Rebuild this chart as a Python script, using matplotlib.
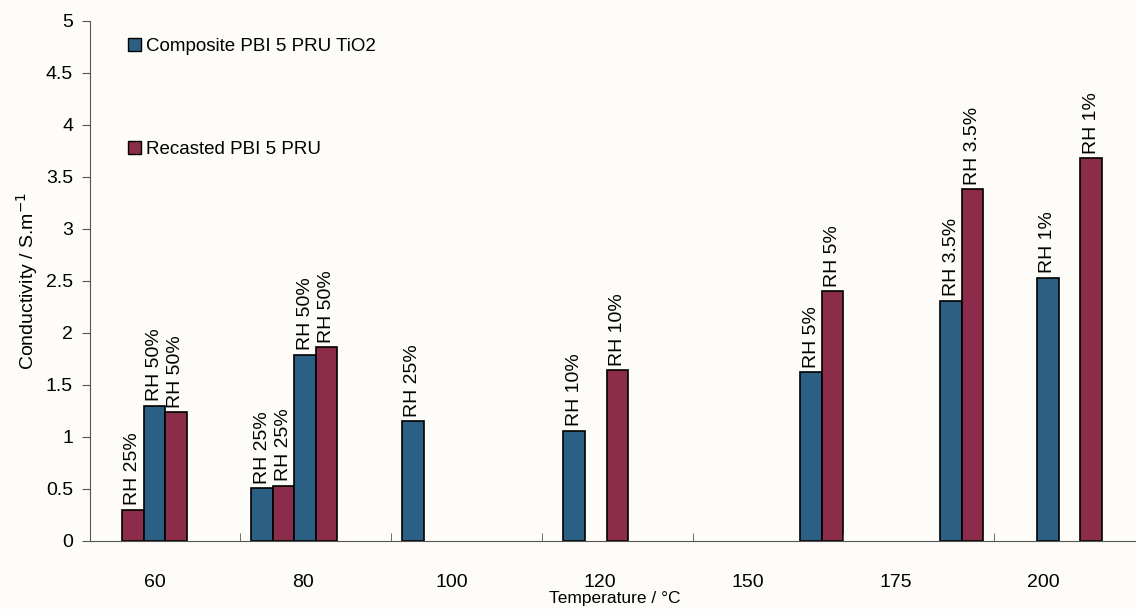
import matplotlib.pyplot as plt
from matplotlib.patches import Patch
import numpy as np

plt.rcParams['font.family'] = ['Liberation Sans', 'DejaVu Sans']

# categories on the x axis (temperature, deg C)
temps = ['60', '80', '100', '120', '150', '175', '200']

# one entry per bar
bar_temp = ['60', '60', '60', '80', '80', '80', '80', '100',
            '120', '120', '150', '150', '175', '175', '200', '200']
bar_series = ['rec', 'comp', 'rec', 'comp', 'rec', 'comp', 'rec', 'comp',
              'comp', 'rec', 'comp', 'rec', 'comp', 'rec', 'comp', 'rec']
bar_value = [0.30, 1.30, 1.24, 0.51, 0.53, 1.79, 1.86, 1.15,
             1.06, 1.64, 1.62, 2.40, 2.31, 3.38, 2.53, 3.68]
bar_rh = ['RH 25%', 'RH 50%', 'RH 50%', 'RH 25%', 'RH 25%', 'RH 50%', 'RH 50%', 'RH 25%',
          'RH 10%', 'RH 10%', 'RH 5%', 'RH 5%', 'RH 3.5%', 'RH 3.5%', 'RH 1%', 'RH 1%']

series_names = {'comp': 'Composite PBI 5 PRU TiO2', 'rec': 'Recasted PBI 5 PRU'}

# layout: slot of each bar inside its category (7 slots per category)
slot = [1.5, 2.5, 3.5, 0.5, 1.5, 2.5, 3.5, 0.5, 1, 3, 5, 6, 4.5, 5.5, 2, 4]
colors = {'comp': '#2b5f84', 'rec': '#8a2c4a'}
w = 1 / 7

fig = plt.figure(figsize=(11.36, 6.09), dpi=100, facecolor='#fdfcf8')
ax = fig.add_axes([0.079, 0.112, 0.921, 0.854])
ax.set_facecolor('#fdfcf8')

xs = [temps.index(t) - 0.5 + (s + 0.5) * w for t, s in zip(bar_temp, slot)]
ax.bar(xs, bar_value, width=w, color=[colors[s] for s in bar_series],
       edgecolor='black', linewidth=1.2)

for x, v, lab in zip(xs, bar_value, bar_rh):
    ax.annotate(lab, (x, v), xytext=(0, 3), textcoords='offset points',
                rotation=90, ha='center', va='bottom', fontsize=14)

ax.set_xlim(-0.5, -0.5 + 1046 / 150.7)
ax.set_ylim(0, 5)
ax.set_yticks(np.arange(0, 5.01, 0.5))
ax.set_yticklabels(['0', '0.5', '1', '1.5', '2', '2.5', '3', '3.5', '4', '4.5', '5'])
# category labels sit a little left of the category centres in the original
ax.set_xticks([i * 0.982 - 0.065 for i in range(len(temps))])
ax.set_xticklabels(temps)
ax.set_xticks(np.arange(0.5, len(temps) - 0.5, 1), minor=True)
ax.tick_params(axis='x', which='major', length=0, pad=24, labelsize=14)
ax.tick_params(axis='x', which='minor', length=6, direction='in', color='#555555')
ax.tick_params(axis='y', length=6, color='#555555', labelsize=14, pad=6)
for side in ['top', 'right']:
    ax.spines[side].set_visible(False)
for side in ['left', 'bottom']:
    ax.spines[side].set_color('#555555')

ax.set_xlabel('Temperature / °C', fontsize=12.5)
ax.xaxis.set_label_coords(0.502, -0.097)
ax.set_ylabel('Conductivity / S.m$^{-1}$', fontsize=14, labelpad=4)

handles = [Patch(facecolor=colors[k], edgecolor='black', label=series_names[k])
           for k in ['comp', 'rec']]
ax.legend(handles=handles, loc='upper left', bbox_to_anchor=(0.02, 1.0),
          frameon=False, fontsize=13.5, handlelength=0.7, handleheight=0.7,
          handletextpad=0.3, labelspacing=4.6)

fig.savefig('out.png', dpi=100, facecolor=fig.get_facecolor())
